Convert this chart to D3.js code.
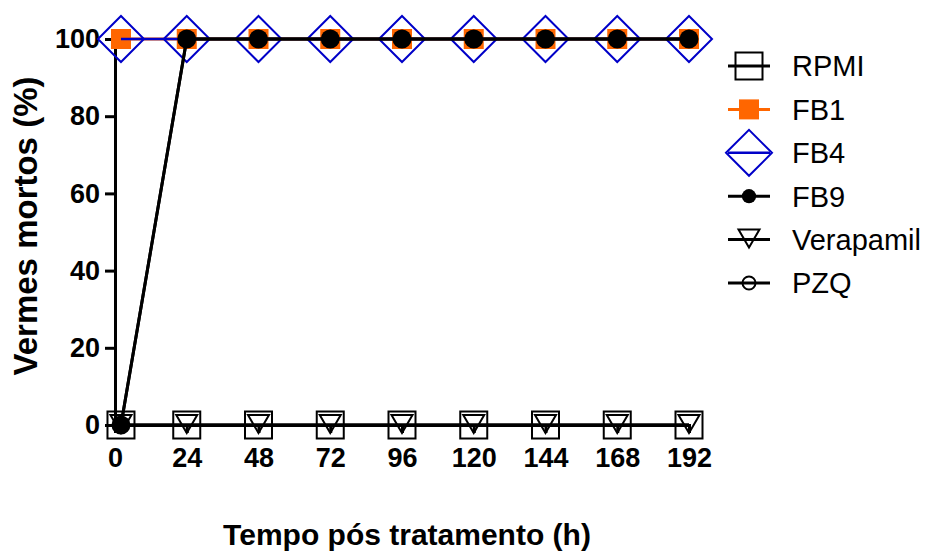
<!DOCTYPE html>
<html><head><meta charset="utf-8">
<script src="https://cdn.jsdelivr.net/npm/d3@7"></script>
<style>
body{margin:0;background:#fff;}
svg{display:block;}
text{font-family:"Liberation Sans",Arial,Helvetica,sans-serif;}
</style></head>
<body><svg id="chart" width="934" height="552"></svg>
<script>
// ---- data ----
const times = [2, 24, 48, 72, 96, 120, 144, 168, 192];
const xTickLabels = [0, 24, 48, 72, 96, 120, 144, 168, 192];
const yTickLabels = [0, 20, 40, 60, 80, 100];
const seriesNames = ["RPMI", "FB1", "FB4", "FB9", "Verapamil", "PZQ"];
const rpmi      = [0, 0, 0, 0, 0, 0, 0, 0, 0];
const fb1       = [100, 100, 100, 100, 100, 100, 100, 100, 100];
const fb4       = [100, 100, 100, 100, 100, 100, 100, 100, 100];
const fb9       = [0, 100, 100, 100, 100, 100, 100, 100, 100];
const verapamil = [0, 0, 0, 0, 0, 0, 0, 0, 0];
const pzq       = [0, 100, 100, 100, 100, 100, 100, 100, 100];

const styles = {
  RPMI:      {color:"#000", lw:3,   sym:"squareOpen"},
  FB1:       {color:"#FF6600", lw:3, sym:"squareFilled"},
  FB4:       {color:"#0000C8", lw:2.5, sym:"diamondOpen"},
  FB9:       {color:"#000", lw:3,   sym:"circleFilled"},
  Verapamil: {color:"#000", lw:3,   sym:"triangleOpen"},
  PZQ:       {color:"#000", lw:3,   sym:"circleOpen"}
};
const valuesBy = {RPMI:rpmi, FB1:fb1, FB4:fb4, FB9:fb9, Verapamil:verapamil, PZQ:pzq};

const svg = d3.select("#chart");
const x = d3.scaleLinear().domain([0, 192]).range([115, 689]);
const y = d3.scaleLinear().domain([0, 100]).range([425, 39]);

function drawSymbol(g, sym, color, cx, cy, k) {
  k = k || 1;
  if (sym === "squareOpen") {
    g.append("rect").attr("x", cx-13.5).attr("y", cy-13.5).attr("width",27).attr("height",27)
      .attr("fill","none").attr("stroke",color).attr("stroke-width",2);
  } else if (sym === "squareFilled") {
    g.append("rect").attr("x", cx-10).attr("y", cy-10).attr("width",20).attr("height",20)
      .attr("fill",color);
  } else if (sym === "diamondOpen") {
    g.append("path").attr("d", `M${cx-23},${cy}L${cx},${cy-23}L${cx+23},${cy}L${cx},${cy+23}Z`)
      .attr("fill","none").attr("stroke",color).attr("stroke-width",2);
  } else if (sym === "circleFilled") {
    g.append("circle").attr("cx",cx).attr("cy",cy).attr("r",9.5*k).attr("fill",color);
  } else if (sym === "triangleOpen") {
    g.append("path").attr("d", `M${cx-10.5},${cy-10}L${cx+10.5},${cy-10}L${cx},${cy+8}Z`)
      .attr("fill","none").attr("stroke",color).attr("stroke-width",2).attr("stroke-linejoin","miter");
  } else if (sym === "circleOpen") {
    g.append("circle").attr("cx",cx).attr("cy",cy).attr("r",6.5)
      .attr("fill","none").attr("stroke",color).attr("stroke-width",2);
  }
}

// ---- axes ----
const yAxis = svg.append("g").attr("transform","translate(115,0)")
  .call(d3.axisLeft(y).tickValues(yTickLabels).tickSize(10).tickSizeOuter(0).tickPadding(5));
const xAxis = svg.append("g").attr("transform","translate(0,425)")
  .call(d3.axisBottom(x).tickValues(xTickLabels).tickSize(8).tickSizeOuter(0).tickPadding(15));
[yAxis, xAxis].forEach(a => {
  a.selectAll("path.domain").attr("stroke","#000").attr("stroke-width",3).attr("stroke-linecap","square");
  a.selectAll(".tick line").attr("stroke","#000").attr("stroke-width",3);
  a.selectAll(".tick text").attr("fill","#000").attr("font-size",27).attr("font-weight","bold")
    .style("font-family","'Liberation Sans',Arial,sans-serif");
});

// ---- series ----
const line = d3.line().x(d => x(d[0])).y(d => y(d[1]));
seriesNames.forEach(name => {
  const st = styles[name];
  const pts = times.map((t,i) => [t, valuesBy[name][i]]);
  const g = svg.append("g");
  g.append("path").attr("d", line(pts)).attr("fill","none")
    .attr("stroke", st.color).attr("stroke-width", st.lw);
  pts.forEach(p => drawSymbol(g, st.sym, st.color, x(p[0]), y(p[1])));
});

// ---- legend ----
const ly = d3.scaleLinear().domain([0, 5]).range([66, 283]);
seriesNames.forEach((name, i) => {
  const st = styles[name];
  const g = svg.append("g");
  const cy = ly(i);
  g.append("line").attr("x1",728).attr("x2",770).attr("y1",cy).attr("y2",cy)
    .attr("stroke",st.color).attr("stroke-width",st.lw);
  drawSymbol(g, st.sym, st.color, 749, cy, 0.75);
  g.append("text").attr("x",792).attr("y",cy).attr("dy","0.36em")
    .attr("font-size",29).attr("fill","#000").text(name);
});

// ---- titles ----
svg.append("text").attr("x",407).attr("y",545).attr("text-anchor","middle")
  .attr("font-size",30).attr("font-weight","bold").text("Tempo pós tratamento (h)");
svg.append("text").attr("transform","translate(37,226) rotate(-90)").attr("text-anchor","middle")
  .attr("font-size",33).attr("font-weight","bold").text("Vermes mortos (%)");
</script></body></html>
